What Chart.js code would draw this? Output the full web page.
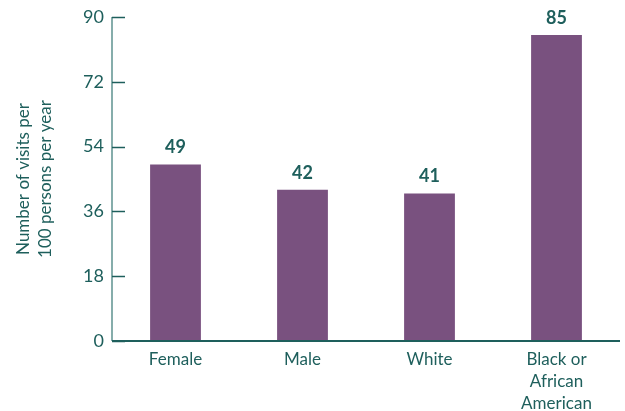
<!DOCTYPE html>
<html lang="en">
<head>
  <meta charset="utf-8">
  <title>Visits per 100 persons</title>
  <script src="https://cdn.jsdelivr.net/npm/chart.js"></script>
  <style>
    body { margin: 0; background: #fff; }
    #wrap { width: 625px; height: 411px; }
  </style>
</head>
<body>
  <div id="wrap"><canvas id="myChart"></canvas></div>
  <script>
    var categories = [['Female'], ['Male'], ['White'], ['Black or', 'African', 'American']];
    var visits = [49, 42, 41, 85];
    var yTicks = [0, 18, 36, 54, 72, 90];

    var teal = '#1e5f5c';

    // value labels above the bars
    var valueLabels = {
      id: 'valueLabels',
      afterDatasetsDraw: function (chart) {
        var ctx = chart.ctx;
        var meta = chart.getDatasetMeta(0);
        ctx.save();
        ctx.fillStyle = teal;
        ctx.font = 'bold 18px Lato';
        ctx.textAlign = 'center';
        ctx.textBaseline = 'bottom';
        meta.data.forEach(function (bar, i) {
          ctx.fillText(visits[i], bar.x, bar.y - 8);
        });
        ctx.restore();
      }
    };

    // tick marks pointing into the plot, and the axis lines
    var axisMarks = {
      id: 'axisMarks',
      afterDatasetsDraw: function (chart) {
        var ctx = chart.ctx;
        var y = chart.scales.y;
        var area = chart.chartArea;
        ctx.save();
        ctx.strokeStyle = '#86adab';
        ctx.lineWidth = 2;
        ctx.beginPath();
        ctx.moveTo(area.left, y.getPixelForValue(90));
        ctx.lineTo(area.left, y.getPixelForValue(0));
        ctx.stroke();
        ctx.strokeStyle = teal;
        ctx.lineWidth = 1.5;
        yTicks.forEach(function (v) {
          var py = Math.round(y.getPixelForValue(v)) + 0.5;
          ctx.beginPath();
          ctx.moveTo(area.left, py);
          ctx.lineTo(area.left + 13, py);
          ctx.stroke();
        });
        ctx.lineWidth = 2;
        ctx.beginPath();
        ctx.moveTo(area.left, y.getPixelForValue(0));
        ctx.lineTo(area.right, y.getPixelForValue(0));
        ctx.stroke();
        ctx.restore();
      }
    };

    var ctx = document.getElementById('myChart').getContext('2d');
    var myChart = new Chart(ctx, {
      type: 'bar',
      data: {
        labels: categories,
        datasets: [{
          data: visits,
          backgroundColor: '#79517f',
          categoryPercentage: 1,
          barPercentage: 0.4
        }]
      },
      options: {
        responsive: true,
        maintainAspectRatio: false,
        animation: false,
        layout: { padding: { top: 0, right: 5, left: 0, bottom: 0 } },
        plugins: {
          legend: { display: false },
          tooltip: { enabled: false }
        },
        scales: {
          x: {
            grid: { display: false, drawTicks: false },
            border: { display: false },
            ticks: {
              color: teal,
              font: { family: 'Lato', size: 17, lineHeight: 1.3 },
              padding: 7,
              maxRotation: 0
            },
            afterFit: function (scale) { scale.height = 70; }
          },
          y: {
            min: 0,
            max: 90,
            afterBuildTicks: function (scale) {
              scale.ticks = yTicks.map(function (v) { return { value: v }; });
            },
            grid: { display: false, drawTicks: false },
            border: { display: false },
            ticks: {
              color: teal,
              font: { family: 'Lato', size: 18 },
              padding: 8
            },
            title: {
              display: true,
              text: ['Number of visits per', '100 persons per year'],
              color: teal,
              font: { family: 'Lato', size: 17, lineHeight: 1.3 },
              padding: { top: 12, bottom: 4 }
            },
            afterFit: function (scale) {
              scale.width = 112;
              scale.paddingTop = 17;
            }
          }
        }
      },
      plugins: [valueLabels, axisMarks]
    });
  </script>
</body>
</html>
